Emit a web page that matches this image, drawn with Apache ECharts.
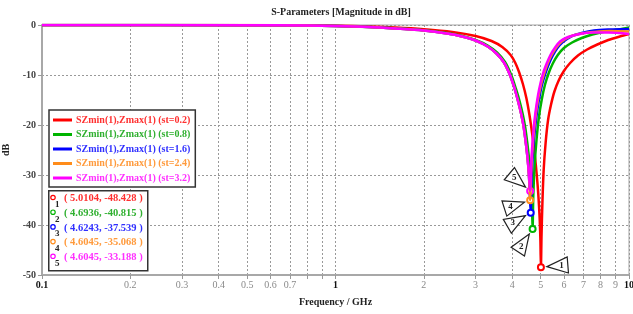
<!DOCTYPE html>
<html>
<head>
<meta charset="utf-8">
<script src="https://cdn.jsdelivr.net/npm/echarts@6/dist/echarts.min.js"></script>
<style>
  html, body { margin: 0; padding: 0; background: #fff; }
  #chart { width: 633px; height: 314px; }
</style>
</head>
<body>
<div id="chart"></div>
<script>
// curve data (GHz / dB)
const redFreq = [0.1, 0.5, 0.8, 1.0, 1.3, 1.6, 2.0, 2.5, 3.0, 3.4, 3.7, 3.95, 4.1, 4.22, 4.35, 4.47, 4.58, 4.68, 4.77, 4.85, 4.91, 4.96, 4.99, 5.0104, 5.035, 5.07, 5.12, 5.2, 5.3, 5.42, 5.57, 5.77, 6.0, 6.3, 6.7, 7.2, 7.8, 8.5, 9.3, 10];
const redDb = [0, -0.02, -0.08, -0.15, -0.3, -0.5, -0.85, -1.4, -2.2, -3.2, -4.4, -6.0, -7.6, -9.4, -11.8, -14.6, -18, -21.8, -25.8, -30, -34, -38.5, -43, -48.428, -42, -35.5, -29, -23.5, -19, -16, -13.3, -11, -9.2, -7.6, -6.1, -4.9, -3.9, -3.0, -2.3, -1.8];

const greenFreq = [0.1, 0.5, 0.8, 1.0, 1.3, 1.6, 2.0, 2.4, 2.7, 3.0, 3.3, 3.55, 3.78, 3.97, 4.12, 4.25, 4.35, 4.43, 4.5, 4.56, 4.61, 4.65, 4.675, 4.6936, 4.72, 4.77, 4.84, 4.93, 5.04, 5.17, 5.32, 5.5, 5.72, 6.0, 6.4, 6.9, 7.5, 8.3, 9.2, 10];
const greenDb = [0, -0.03, -0.1, -0.2, -0.4, -0.65, -1.05, -1.6, -2.2, -3.0, -4.1, -5.5, -7.4, -10, -12.8, -15.5, -18, -20.5, -23.5, -26.5, -29.5, -33, -36.5, -40.815, -34, -28, -23, -18.5, -15, -12, -9.7, -7.7, -6, -4.6, -3.5, -2.6, -1.9, -1.3, -0.9, -0.5];

const blueFreq = [0.1, 0.5, 0.8, 1.0, 1.3, 1.6, 2.0, 2.4, 2.7, 3.0, 3.3, 3.55, 3.75, 3.93, 4.08, 4.2, 4.3, 4.38, 4.45, 4.51, 4.555, 4.59, 4.6243, 4.65, 4.69, 4.75, 4.83, 4.93, 5.05, 5.18, 5.33, 5.5, 5.7, 5.95, 6.35, 6.9, 7.6, 8.6, 10];
const blueDb = [0, -0.03, -0.1, -0.2, -0.4, -0.7, -1.1, -1.7, -2.3, -3.1, -4.3, -5.8, -7.5, -10, -12.8, -15.5, -18, -20.5, -23.5, -26.5, -29.5, -33.5, -37.539, -32, -27, -22.5, -18.5, -15, -12, -9.8, -7.8, -6.1, -4.6, -3.4, -2.3, -1.6, -1.1, -0.9, -0.8];

const orangeFreq = [0.1, 0.5, 0.8, 1.0, 1.3, 1.6, 2.0, 2.4, 2.7, 3.0, 3.3, 3.55, 3.75, 3.93, 4.08, 4.2, 4.3, 4.38, 4.45, 4.51, 4.555, 4.585, 4.6045, 4.63, 4.67, 4.73, 4.81, 4.91, 5.02, 5.15, 5.29, 5.45, 5.65, 5.9, 6.3, 6.9, 7.6, 8.6, 10];
const orangeDb = [0, -0.03, -0.1, -0.2, -0.4, -0.7, -1.1, -1.7, -2.3, -3.1, -4.3, -5.8, -7.5, -10, -12.8, -15.5, -18, -20.5, -23.5, -26.5, -29.6, -32.3, -35.068, -31, -26.5, -22, -18, -14.5, -11.8, -9.5, -7.6, -6, -4.5, -3.3, -2.3, -1.7, -1.4, -1.2, -1.3];

const magentaFreq = [0.1, 0.5, 0.8, 1.0, 1.3, 1.6, 2.0, 2.4, 2.7, 3.0, 3.3, 3.55, 3.75, 3.93, 4.08, 4.2, 4.3, 4.38, 4.45, 4.51, 4.555, 4.585, 4.6045, 4.625, 4.66, 4.72, 4.8, 4.9, 5.0, 5.12, 5.25, 5.4, 5.6, 5.82, 6.2, 6.8, 7.5, 8.5, 10];
const magentaDb = [0, -0.03, -0.1, -0.2, -0.4, -0.7, -1.1, -1.7, -2.3, -3.1, -4.3, -5.8, -7.5, -10, -12.8, -15.5, -18, -20.5, -23.5, -26.5, -29.5, -31.8, -33.188, -30, -26, -21.5, -17.5, -14, -11.5, -9.3, -7.6, -6, -4.5, -3.3, -2.4, -1.8, -1.5, -1.5, -1.8];

const seriesNames = [
  'SZmin(1),Zmax(1) (st=0.2)',
  'SZmin(1),Zmax(1) (st=0.8)',
  'SZmin(1),Zmax(1) (st=1.6)',
  'SZmin(1),Zmax(1) (st=2.4)',
  'SZmin(1),Zmax(1) (st=3.2)'
];
const markerFreq = [5.0104, 4.6936, 4.6243, 4.6045, 4.6045];
const markerDb = [-48.428, -40.815, -37.539, -35.068, -33.188];

const xTickValues = [0.1, 0.2, 0.3, 0.4, 0.5, 0.6, 0.7, 0.8, 0.9, 1, 2, 3, 4, 5, 6, 7, 8, 9, 10];
const xLabelValues = [0.1, 0.2, 0.3, 0.4, 0.5, 0.6, 0.7, 1, 2, 3, 4, 5, 6, 7, 8, 9, 10];
const xMajor = [0.1, 1, 10];

const lineColors = ['#ff0000', '#00b400', '#0000ff', '#ff8c1a', '#ff00ff'];
const textColors = ['#ff3030', '#30b030', '#3030ff', '#ff9a3c', '#ff30ff'];
const FONT = '"Liberation Serif", "DejaVu Serif", serif';

const curves = [
  [redFreq, redDb], [greenFreq, greenDb], [blueFreq, blueDb],
  [orangeFreq, orangeDb], [magentaFreq, magentaDb]
];

const chart = echarts.init(document.getElementById('chart'), null, { renderer: 'canvas' });

function labelFor(v) {
  let best = xTickValues[0];
  xTickValues.forEach(function (t) {
    if (Math.abs(Math.log10(t) - v) < Math.abs(Math.log10(best) - v)) best = t;
  });
  return best;
}

const series = curves.map(function (c, i) {
  return {
    name: seriesNames[i],
    type: 'line',
    showSymbol: false,
    smooth: 0.3,
    z: 2 + i,
    lineStyle: { color: lineColors[i], width: 2.5 },
    itemStyle: { color: lineColors[i] },
    data: c[0].map(function (f, k) { return [Math.log10(f), c[1][k]]; }),
    markPoint: {
      symbol: 'emptyCircle',
      symbolSize: 6,
      label: { show: false },
      itemStyle: { color: lineColors[i], borderColor: lineColors[i], borderWidth: 1.5 },
      data: [{ coord: [Math.log10(markerFreq[i]), markerDb[i]] }]
    }
  };
});

chart.setOption({
  animation: false,
  title: {
    text: 'S-Parameters [Magnitude in dB]',
    left: 336, top: 2, textAlign: 'center',
    textStyle: { fontFamily: FONT, fontSize: 10, fontWeight: 'bold', color: '#222' }
  },
  grid: {
    left: 42, right: 4, top: 25, bottom: 39,
    outerBoundsMode: 'none',
    show: true, borderColor: '#c4c4c4', borderWidth: 1.5
  },
  legend: {
    orient: 'vertical', left: 49, top: 110,
    backgroundColor: '#fff', borderColor: '#333', borderWidth: 1.5,
    padding: [5, 5, 4, 4], itemGap: 4.5,
    icon: 'rect', itemWidth: 19, itemHeight: 3,
    data: seriesNames.map(function (n, i) {
      return { name: n, textStyle: { color: textColors[i] } };
    }),
    textStyle: { fontFamily: FONT, fontSize: 10, fontWeight: 'bold', padding: [0, 0, 0, -1] }
  },
  xAxis: {
    type: 'value', min: -1, max: 1,
    name: 'Frequency / GHz', nameLocation: 'middle', nameGap: 22,
    nameTextStyle: { fontFamily: FONT, fontSize: 10, fontWeight: 'bold', color: '#222' },
    axisLine: { onZero: false, lineStyle: { color: '#a8a8a8', width: 2 } },
    axisTick: { customValues: xTickValues.map(Math.log10), length: 4, lineStyle: { color: '#999' } },
    axisLabel: {
      customValues: xLabelValues.map(Math.log10), margin: 5,
      formatter: function (v) {
        const t = labelFor(v);
        return xMajor.indexOf(t) >= 0 ? '{b|' + t + '}' : '{g|' + t + '}';
      },
      rich: {
        b: { fontFamily: FONT, fontSize: 10, fontWeight: 'bold', color: '#111' },
        g: { fontFamily: FONT, fontSize: 10, color: '#8a8a8a' }
      }
    },
    splitLine: { show: true, lineStyle: { type: [2, 2], color: '#999', width: 1 } }
  },
  yAxis: {
    type: 'value', min: -50, max: 0, interval: 10,
    name: 'dB', nameLocation: 'middle', nameGap: 25,
    nameTextStyle: { fontFamily: FONT, fontSize: 10, fontWeight: 'bold', color: '#222' },
    axisLine: { show: true, onZero: false, lineStyle: { color: '#a8a8a8', width: 2 } },
    axisTick: { show: true, length: 4, lineStyle: { color: '#999' } },
    axisLabel: { fontFamily: FONT, fontSize: 10, fontWeight: 'bold', color: '#444', margin: 6 },
    splitLine: { show: true, lineStyle: { type: [2, 2], color: '#999', width: 1 } }
  },
  series: series
});

// marker readout box and callouts, placed through the chart's own scales
const calloutDirs = [[1, -0.08], [-0.55, 0.84], [-0.86, 0.5], [-0.95, 0.3], [-0.77, -0.64]];
const graphics = [];

graphics.push({
  type: 'rect', left: 48, top: 190, z: 100,
  shape: { width: 99, height: 80 },
  style: { fill: '#fff', stroke: '#333', lineWidth: 1.5 }
});
markerFreq.forEach(function (f, i) {
  const y = 199 + i * 14.7;
  graphics.push({
    type: 'circle', z: 101, shape: { cx: 53, cy: y - 1.5, r: 2.2 },
    style: { fill: 'none', stroke: lineColors[i], lineWidth: 1.2 }
  });
  graphics.push({
    type: 'text', z: 101, x: 55, y: y + 1,
    style: { text: String(i + 1), font: 'bold 9px ' + FONT, fill: '#222' }
  });
  graphics.push({
    type: 'text', z: 101, x: 64, y: y - 6,
    style: {
      text: '( ' + f.toFixed(4) + ', ' + markerDb[i].toFixed(3) + ' )',
      font: 'bold 10.5px ' + FONT, fill: textColors[i]
    }
  });
});

markerFreq.forEach(function (f, i) {
  const p = chart.convertToPixel({ gridIndex: 0 }, [Math.log10(f), markerDb[i]]);
  const d = calloutDirs[i];
  const len = Math.sqrt(d[0] * d[0] + d[1] * d[1]);
  const ux = d[0] / len, uy = d[1] / len;
  const nx = -uy, ny = ux;
  const gap = 6, tri = 21, half = 8;
  const ax = p[0] + gap * ux, ay = p[1] + gap * uy;
  const bx = p[0] + (gap + tri) * ux, by = p[1] + (gap + tri) * uy;
  graphics.push({
    type: 'polygon', z: 90,
    shape: { points: [[ax, ay], [bx + half * nx, by + half * ny], [bx - half * nx, by - half * ny]] },
    style: { fill: '#fff', stroke: '#222', lineWidth: 1.2 }
  });
  const lx = p[0] + (gap + tri * 0.7) * ux, ly = p[1] + (gap + tri * 0.7) * uy;
  graphics.push({
    type: 'text', z: 91, x: lx, y: ly,
    style: {
      text: String(i + 1), font: 'bold 9px ' + FONT, fill: '#222',
      align: 'center', verticalAlign: 'middle'
    }
  });
});

chart.setOption({ graphic: graphics });
</script>
</body>
</html>
